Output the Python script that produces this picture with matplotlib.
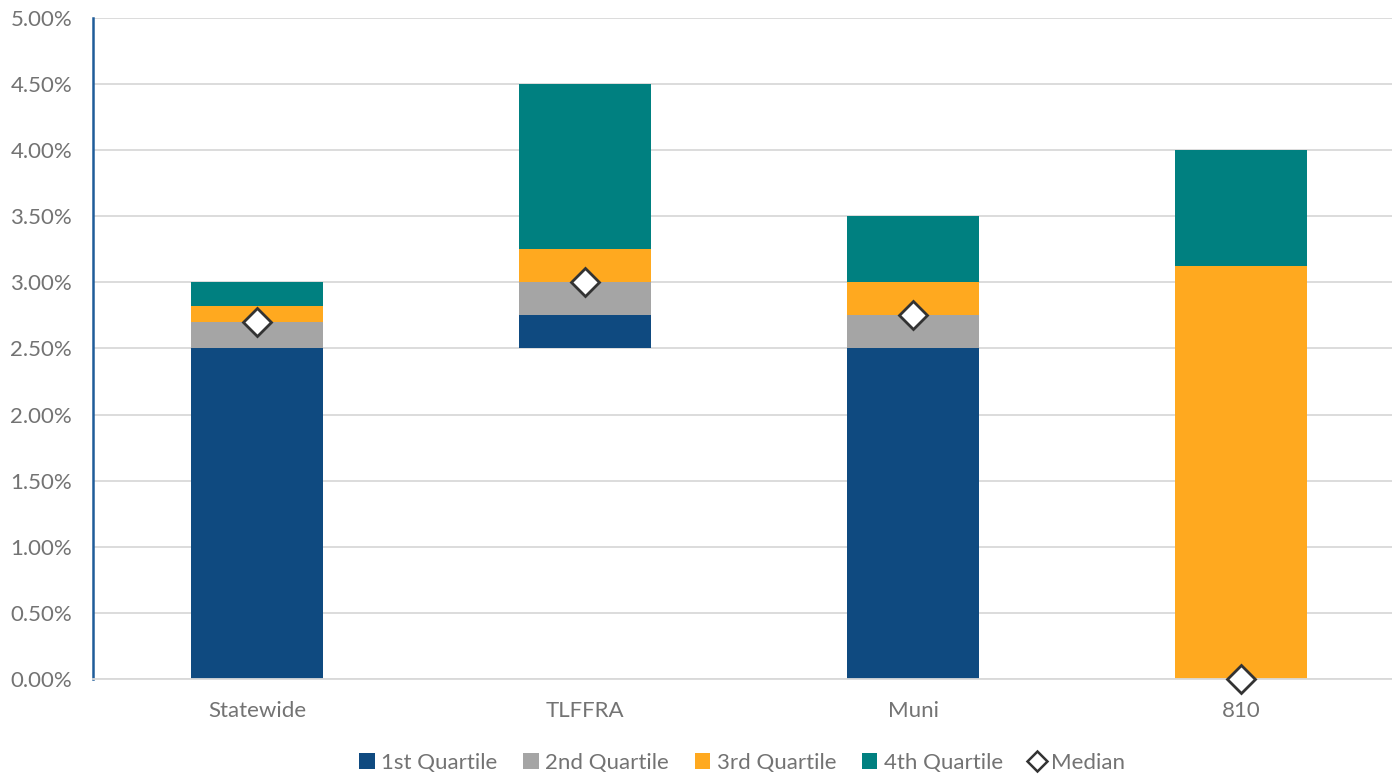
import matplotlib
matplotlib.use('Agg')

import matplotlib.pyplot as plt
from matplotlib.lines import Line2D
from matplotlib.patches import Patch
from matplotlib.ticker import FuncFormatter, MultipleLocator
import numpy as np

# rates in percent
categories = ['Statewide', 'TLFFRA', 'Muni', '810']
base = [0.0, 2.5, 0.0, 0.0]          # hidden offset below the 1st quartile
q1 = [2.5, 0.25, 2.5, 0.0]
q2 = [0.2, 0.25, 0.25, 0.0]
q3 = [0.125, 0.25, 0.25, 3.125]
q4 = [0.175, 1.25, 0.5, 0.875]
median = [2.7, 3.0, 2.75, 0.0]

series_names = ['1st Quartile', '2nd Quartile', '3rd Quartile', '4th Quartile']
colors = ['#0F4A80', '#A5A5A5', '#FFA91F', '#008080']
text_color = '#737373'

plt.rcParams['font.family'] = ['Lato', 'DejaVu Sans']

fig = plt.figure(figsize=(13.92, 7.75), dpi=100)
ax = fig.add_axes([93 / 1392, 96 / 775, 1312 / 1392, 661 / 775])

x = np.arange(len(categories))
width = 0.4
bottom = np.array(base, dtype=float)
for vals, col in zip([q1, q2, q3, q4], colors):
    ax.bar(x, vals, width, bottom=bottom, color=col, zorder=2)
    bottom += np.array(vals)

ax.plot(x, median, linestyle='none', marker='D', markersize=14,
        markerfacecolor='white', markeredgecolor='#333333', markeredgewidth=2,
        zorder=4, clip_on=False)

ax.set_xlim(-0.5, 3.5)
ax.set_ylim(0, 5)
ax.yaxis.set_major_locator(MultipleLocator(0.5))
ax.yaxis.set_major_formatter(FuncFormatter(lambda v, p: f'{v:.2f}%'))
ax.set_xticks(x)
ax.set_xticklabels(categories)
ax.tick_params(axis='both', length=0, labelsize=16, colors=text_color)
ax.tick_params(axis='x', pad=16)
ax.tick_params(axis='y', pad=15)

ax.grid(axis='y', color='#D9D9D9', linewidth=1.3, zorder=0)
ax.set_axisbelow(True)
for s in ['top', 'right']:
    ax.spines[s].set_visible(False)
ax.spines['left'].set_color('#1F5C99')
ax.spines['left'].set_linewidth(1.8)
ax.spines['bottom'].set_color('#D9D9D9')
ax.spines['bottom'].set_linewidth(1.3)

handles = [Patch(facecolor=c, edgecolor='none') for c in colors]
handles.append(Line2D([], [], linestyle='none', marker='D', markersize=10,
                      markerfacecolor='white', markeredgecolor='#333333',
                      markeredgewidth=1.8))
leg = fig.legend(handles, series_names + ['Median'], loc='center',
                 bbox_to_anchor=(742 / 1392, 1 - 763 / 775), ncol=5,
                 frameon=False, fontsize=16, handlelength=0.7,
                 handleheight=0.7, handletextpad=0.3, columnspacing=1.15)
for t in leg.get_texts():
    t.set_color(text_color)

fig.savefig('out.png', dpi=100)
